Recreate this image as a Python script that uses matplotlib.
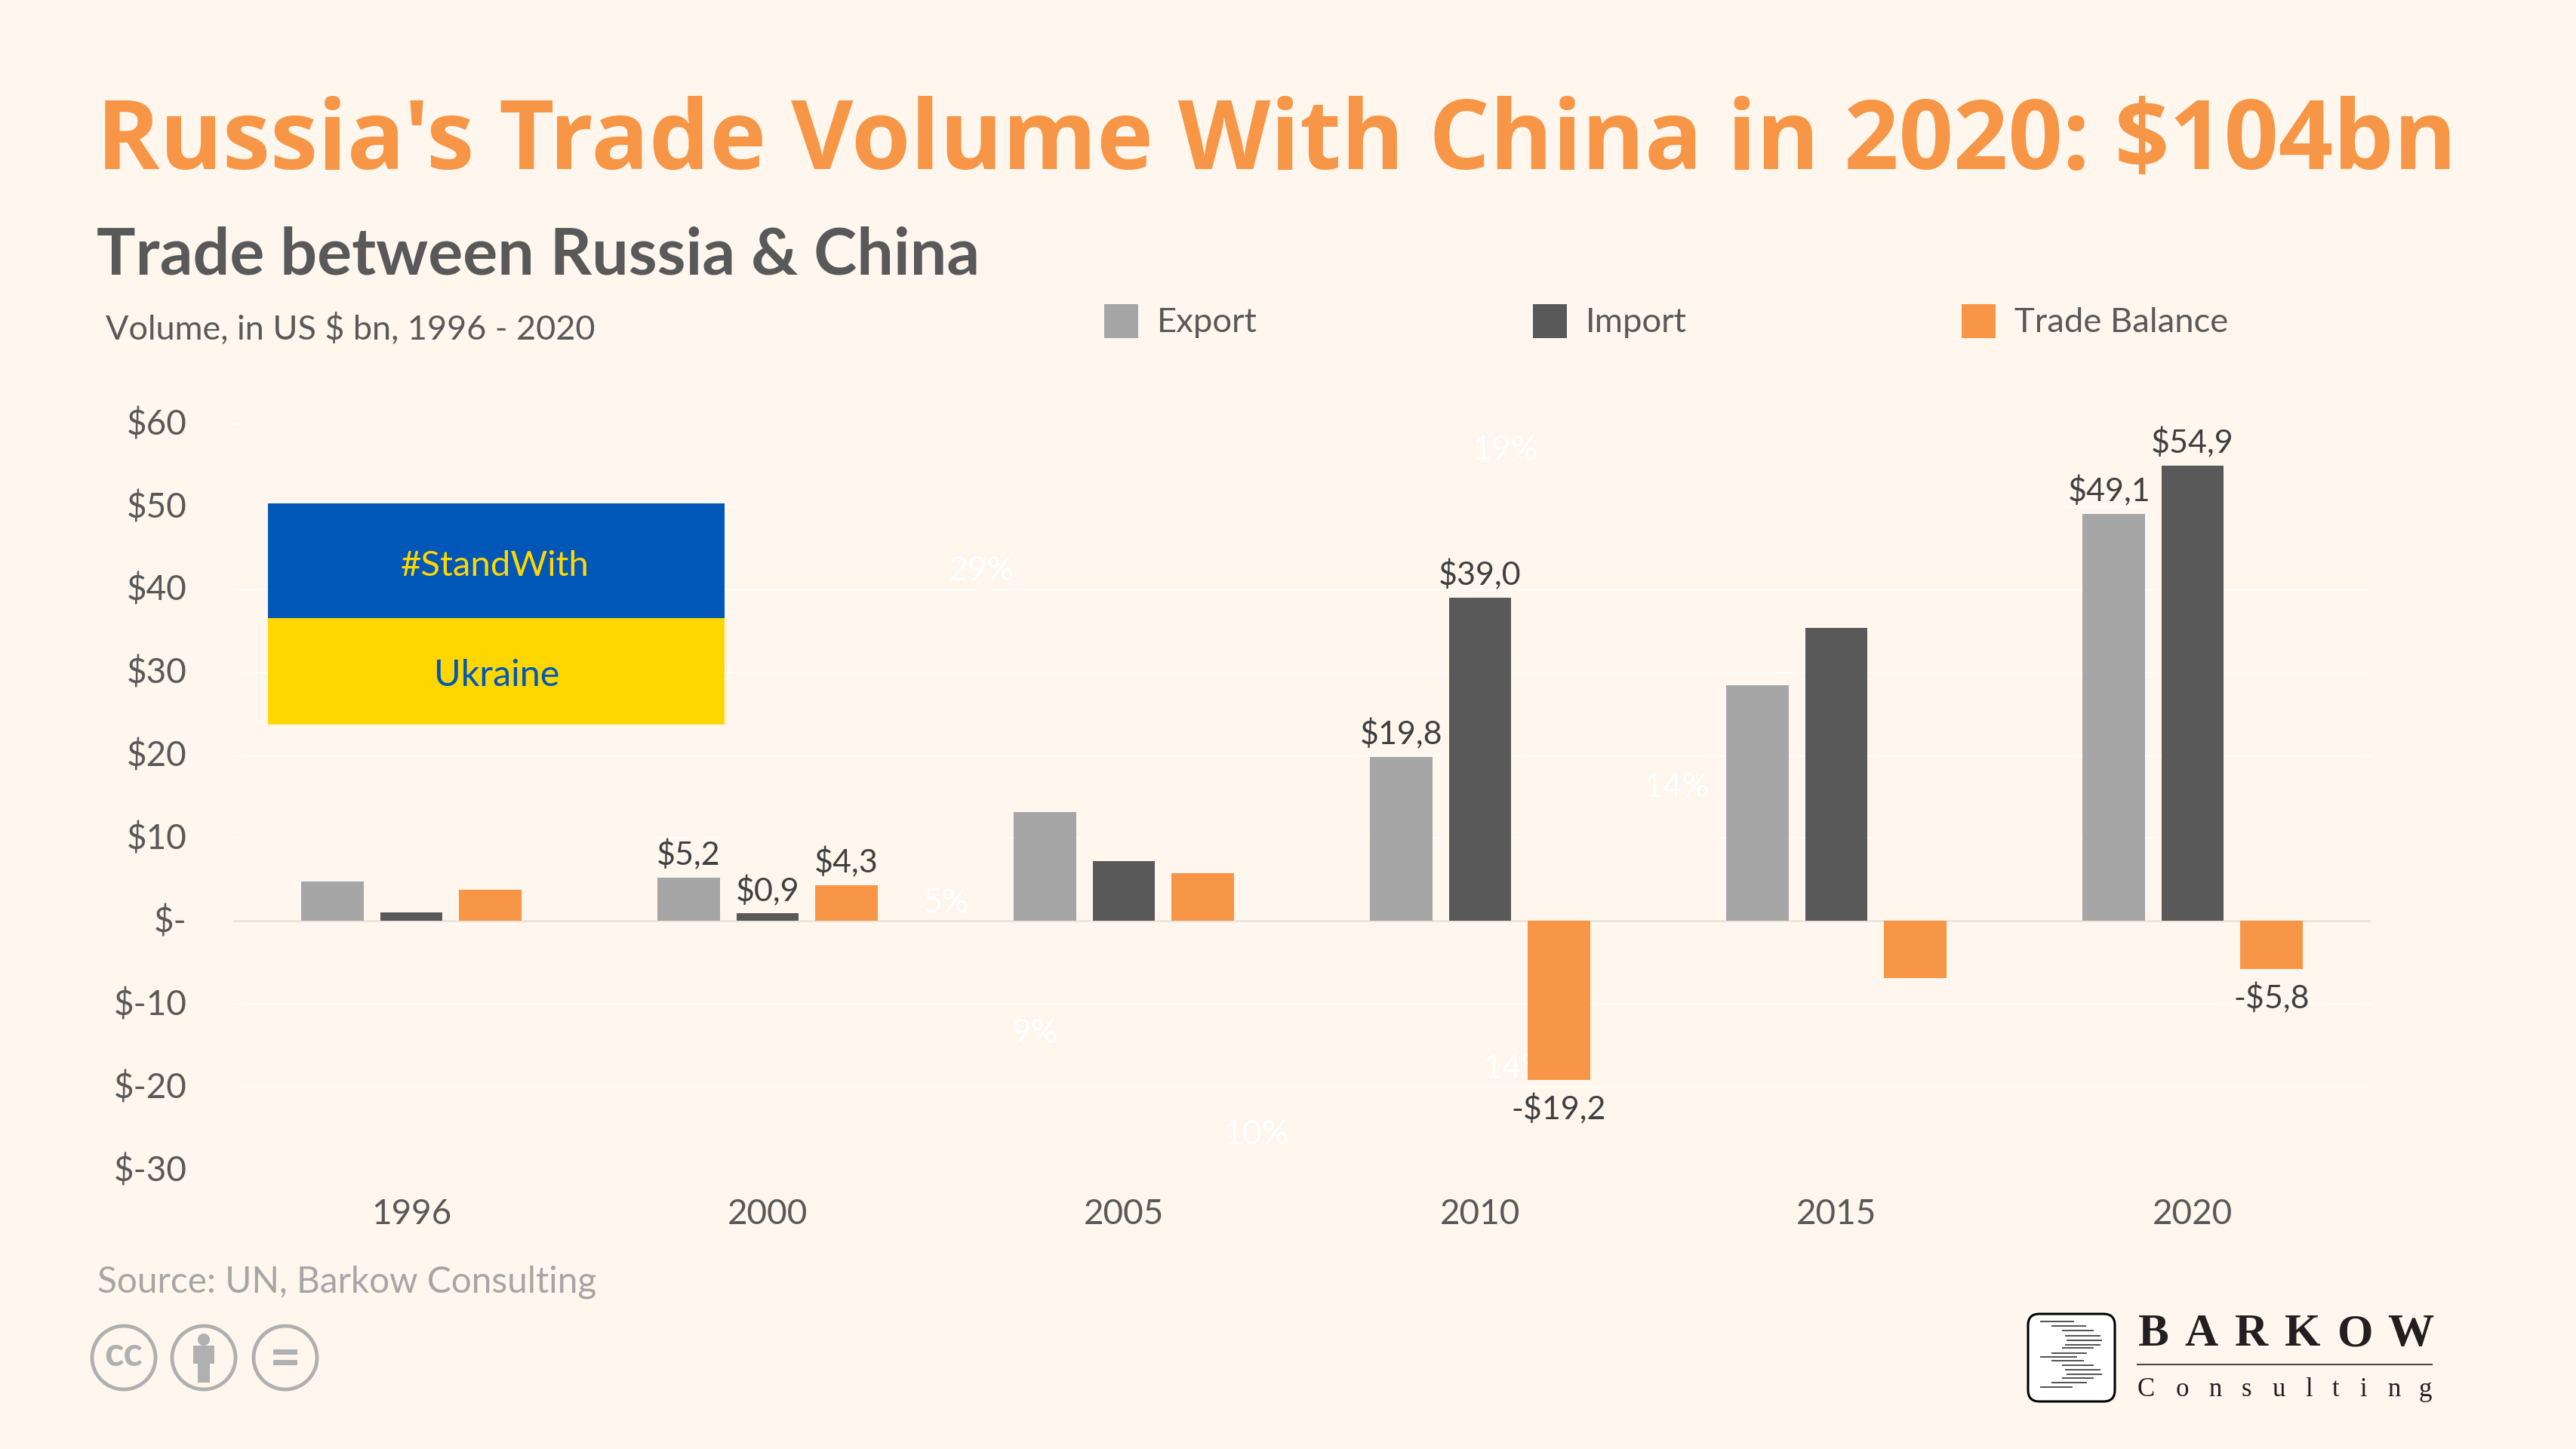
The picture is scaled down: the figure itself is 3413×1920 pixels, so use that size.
import numpy as np
import matplotlib
matplotlib.use("Agg")
import matplotlib.pyplot as plt
from matplotlib.patches import Rectangle, Circle, FancyBboxPatch
from matplotlib.transforms import ScaledTranslation

# -----------------------------------------------------
# DATA
# -----------------------------------------------------
years = ["1996", "2000", "2005", "2010", "2015", "2020"]
export_vals = [4.8, 5.2, 13.1, 19.8, 28.4, 49.1]
import_vals = [1.0, 0.9, 7.2, 39.0, 35.3, 54.9]
balance_vals = [3.8, 4.3, 5.8, -19.2, -6.9, -5.8]

export_labels = ["", "$5,2", "", "$19,8", "", "$49,1"]
import_labels = ["", "$0,9", "", "$39,0", "", "$54,9"]
balance_labels = ["", "$4,3", "", "", "", ""]
balance_neg_labels = ["", "", "", "-$19,2", "", "-$5,8"]

y_ticks = [-30, -20, -10, 0, 10, 20, 30, 40, 50, 60]
y_tick_labels = ["$-30", "$-20", "$-10", "$-", "$10", "$20", "$30", "$40", "$50", "$60"]

# leftover white percentages that sit on the slide
ghost_labels = ["19%", "29%", "5%", "9%", "14%", "14%", "10%"]
ghost_x = [3.07, 1.60, 1.50, 1.75, 3.55, 3.10, 2.37]
ghost_y = [56.8, 42.2, 2.2, -13.6, 16.1, -17.8, -25.8]

# -----------------------------------------------------
# STYLE
# -----------------------------------------------------
BG = "#FFF6ED"
ORANGE = "#F79646"
LIGHT = "#A6A6A6"
DARK = "#595959"
TEXT = "#404040"
ICON = "#B0B0B0"
W, H = 3413, 1920

plt.rcParams["font.family"] = ["Lato", "DejaVu Sans"]

fig = plt.figure(figsize=(W / 100, H / 100), dpi=100, facecolor=BG)

# -----------------------------------------------------
# BARS
# -----------------------------------------------------
ax = fig.add_axes([309 / W, (H - 1550) / H, 2832 / W, 989 / H], facecolor="none")
x = np.arange(len(years))
step = 0.2214
width = 0.174

b1 = ax.bar(x - step, export_vals, width, color=LIGHT, zorder=3)
b2 = ax.bar(x, import_vals, width, color=DARK, zorder=3)
b3 = ax.bar(x + step, balance_vals, width, color=ORANGE, zorder=3)

l1 = ax.bar_label(b1, labels=export_labels, padding=7, fontsize=31, color=TEXT)
ax.bar_label(b2, labels=import_labels, padding=7, fontsize=31, color=TEXT)
ax.bar_label(b3, labels=balance_labels, padding=7, fontsize=31, color=TEXT)
ax.bar_label(b3, labels=balance_neg_labels, padding=13, fontsize=31, color=TEXT)
l1[5].xyann = (-4, 7)

for lab, gx, gy in zip(ghost_labels, ghost_x, ghost_y):
    ax.text(gx, gy, lab, color="#FFFFFF", fontsize=32, ha="center", va="center", zorder=2)

ax.set_xlim(-0.5, 5.5)
ax.set_ylim(-30, 60)
ax.set_xticks(x, years)
ax.set_yticks(y_ticks, y_tick_labels)
ax.tick_params(axis="x", length=0, pad=27, labelsize=33, labelcolor=DARK)
ax.tick_params(axis="y", length=0, pad=44, labelsize=33, labelcolor=DARK)
for t in ax.get_yticklabels():
    t.set_transform(t.get_transform() + ScaledTranslation(0, 2 / 72, fig.dpi_scale_trans))
ax.grid(axis="y", color="#FFFCF9", linewidth=2, zorder=1)
ax.axhline(0, color="#EBE4DD", linewidth=2, zorder=2)
for s in ax.spines.values():
    s.set_visible(False)

# -----------------------------------------------------
# OVERLAY IN PIXELS (titles, legend, flag, logos)
# -----------------------------------------------------
ov = fig.add_axes([0, 0, 1, 1], facecolor="none")
ov.set_xlim(0, W)
ov.set_ylim(H, 0)
ov.axis("off")

ov.text(128, 224, "Russia's Trade Volume With China in 2020: $104bn", color=ORANGE,
        fontsize=91.3, fontweight="bold", family="Open Sans", ha="left", va="baseline")
ov.text(128, 364, "Trade between Russia & China", color=DARK, fontsize=62,
        fontweight="bold", ha="left", va="baseline")
ov.text(140, 436, "Volume, in US $ bn, 1996 - 2020", color=DARK, fontsize=32.4,
        ha="left", va="center")

# legend
for lx, col, name in [(1463, LIGHT, "Export"), (2031, DARK, "Import"), (2599, ORANGE, "Trade Balance")]:
    ov.add_patch(Rectangle((lx, 403), 45, 45, color=col, lw=0))
    ov.text(lx + 70, 427, name, color=DARK, fontsize=32.7, ha="left", va="center")

# flag
ov.add_patch(Rectangle((355, 667), 605, 152, color="#0057B8", lw=0))
ov.add_patch(Rectangle((355, 819), 605, 141, color="#FFD700", lw=0))
ov.text(656, 750, "#StandWith", color="#FFD700", fontsize=34, ha="center", va="center")
ov.text(658, 895, "Ukraine", color="#0057B8", fontsize=35, ha="center", va="center")

# source and cc icons
ov.text(129, 1699, "Source: UN, Barkow Consulting", color=LIGHT, fontsize=34.4,
        ha="left", va="center")
for cx in [164, 270, 378]:
    ov.add_patch(Circle((cx, 1799), 42, fill=False, ec=ICON, lw=3.5))
ov.text(164, 1795, "cc", color=ICON, fontsize=38, fontweight="bold", ha="center", va="center")
ov.add_patch(Circle((270, 1775), 8, color=ICON, lw=0))
ov.add_patch(Rectangle((256, 1783), 28, 24, color=ICON, lw=0))
ov.add_patch(Rectangle((262, 1807), 16, 25, color=ICON, lw=0))
ov.add_patch(FancyBboxPatch((363, 1789), 30, 5, boxstyle="round,pad=1", color=ICON, lw=0))
ov.add_patch(FancyBboxPatch((363, 1803), 30, 5, boxstyle="round,pad=1", color=ICON, lw=0))

# barkow logo
ov.add_patch(FancyBboxPatch((2702, 1756), 85, 86, boxstyle="round,pad=15", fc="white", ec="black", lw=2.2))
logo_y = [1751, 1757, 1763, 1770, 1776, 1782, 1786, 1793, 1798, 1803, 1809, 1815, 1821, 1826, 1832, 1838]
logo_x0 = [2703, 2718, 2732, 2736, 2738, 2736, 2732, 2718, 2703, 2718, 2732, 2736, 2738, 2732, 2718, 2703]
logo_x1 = [2748, 2764, 2774, 2783, 2785, 2783, 2774, 2765, 2752, 2761, 2774, 2783, 2785, 2774, 2765, 2746]
for ly, x0, x1 in zip(logo_y, logo_x0, logo_x1):
    ov.plot([x0, x1], [ly, ly], color="#222222", lw=1.1, solid_capstyle="butt")

for cx, ch in zip([540, 700, 868, 1040, 1215, 1400], "BARKOW"):
    ov.text(2640 + cx / 2.529, 1783, ch, color="#231F20", fontsize=44, fontweight="bold",
            family="Liberation Serif", ha="center", va="baseline")
ov.plot([2832, 3222], [1808, 1808], color="#4A4440", lw=1.5)
for cx, ch in zip([513, 635, 745, 850, 958, 1060, 1150, 1243, 1345, 1450], "Consulting"):
    ov.text(2640 + cx / 2.529, 1850, ch, color="#231F20", fontsize=25,
            family="Liberation Serif", ha="center", va="baseline")

fig.savefig("out.png", dpi=100, facecolor=BG)
